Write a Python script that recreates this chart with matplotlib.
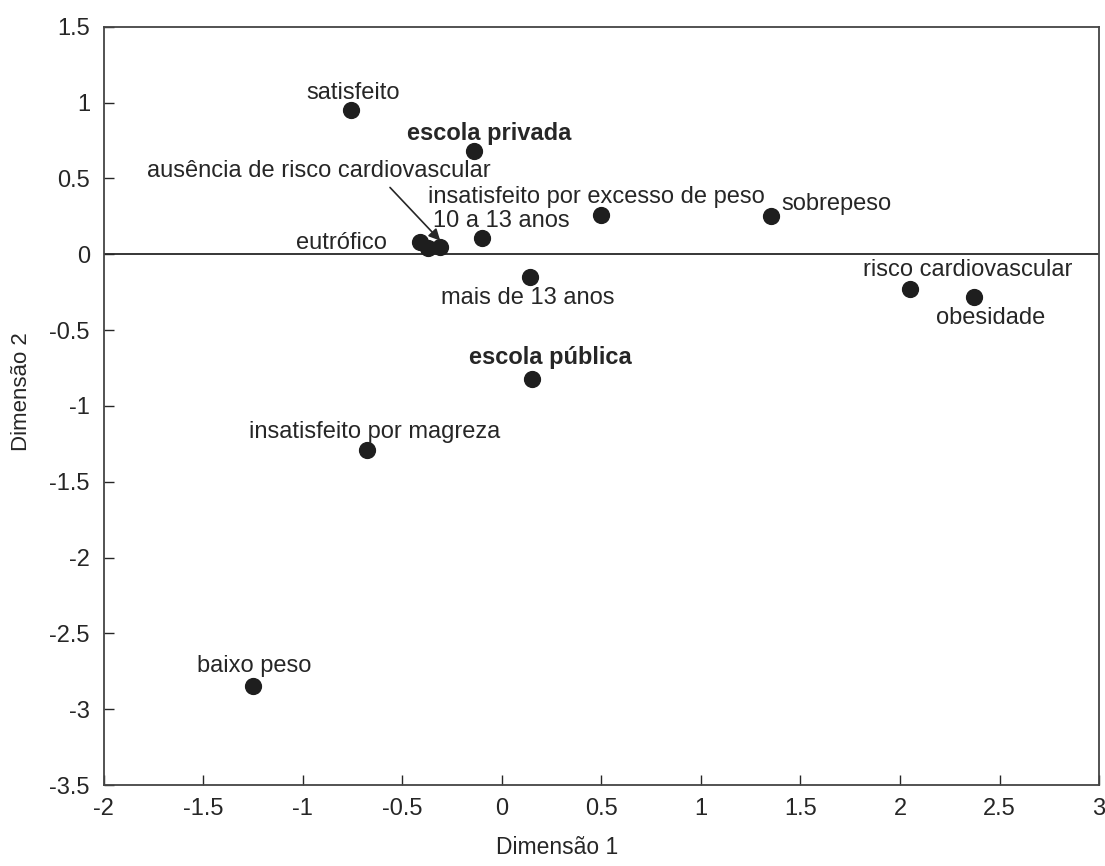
import matplotlib.pyplot as plt
import numpy as np

plt.rcParams['font.family'] = ['Liberation Sans', 'DejaVu Sans']

# coordenadas das categorias (Dimensão 1, Dimensão 2)
rotulos = ['satisfeito', 'escola privada', 'insatisfeito por excesso de peso',
           'sobrepeso', '10 a 13 anos', 'eutrófico',
           'ausência de risco cardiovascular', '', 'mais de 13 anos',
           'risco cardiovascular', 'obesidade', 'escola pública',
           'insatisfeito por magreza', 'baixo peso']
dim1 = [-0.76, -0.14, 0.50, 1.35, -0.10, -0.41, -0.31, -0.37, 0.14,
        2.05, 2.37, 0.15, -0.68, -1.25]
dim2 = [0.95, 0.68, 0.26, 0.25, 0.11, 0.08, 0.05, 0.04, -0.15,
        -0.23, -0.28, -0.82, -1.29, -2.85]
negrito = ['escola privada', 'escola pública']

# deslocamento dos rótulos em pixels (dx, dy, alinhamento)
desloc = [(2, 17, 'center'), (15, 18, 'center'), (-5, 18, 'center'),
          (11, 12, 'left'), (19, 17, 'center'), (-33, -1, 'right'),
          (-121, 70, 'center'), (0, 0, 'center'), (-2, -21, 'center'),
          (58, 19, 'center'), (17, -21, 'center'), (19, 21, 'center'),
          (8, 18, 'center'), (1, 20, 'center')]

cor = '#262626'

fig = plt.figure(figsize=(11.05, 8.66), dpi=100)
ax = fig.add_axes([0.094, 0.0935, 0.9006, 0.8755])

ax.axhline(0, color=cor, lw=1.3, zorder=1)
ax.scatter(dim1, dim2, s=130, color='#1e1e1e', zorder=3)

for nome, x, y, (dx, dy, ha) in zip(rotulos, dim1, dim2, desloc):
    if nome == '':
        continue
    peso = 'bold' if nome in negrito else 'normal'
    if nome.startswith('ausência'):
        ax.annotate(nome, xy=(x, y + 0.04), xytext=(dx * 0.72, dy * 0.72),
                    textcoords='offset points', ha=ha, va='center',
                    fontsize=17, color=cor,
                    arrowprops=dict(arrowstyle='-|>', color=cor, lw=1.2,
                                    shrinkA=3, shrinkB=0, relpos=(0.69, 0)))
    else:
        ax.annotate(nome, xy=(x, y), xytext=(dx * 0.72, dy * 0.72),
                    textcoords='offset points', ha=ha, va='center',
                    fontsize=17, color=cor, fontweight=peso)

ax.set_xlim(-2, 3)
ax.set_ylim(-3.5, 1.5)
ax.set_xticks(np.arange(-2, 3.01, 0.5))
ax.set_yticks(np.arange(-3.5, 1.51, 0.5))
ax.set_xticklabels(['-2', '-1.5', '-1', '-0.5', '0', '0.5', '1', '1.5', '2', '2.5', '3'])
ax.set_yticklabels(['-3.5', '-3', '-2.5', '-2', '-1.5', '-1', '-0.5', '0', '0.5', '1', '1.5'])
ax.tick_params(direction='in', length=7, width=1, labelsize=17, colors=cor)
ax.tick_params(axis='x', pad=9)
ax.tick_params(axis='y', pad=10)
for s in ax.spines.values():
    s.set_color('#444444')
    s.set_linewidth(1.3)

fig.text(557 / 1105, 1 - 848 / 866, 'Dimensão 1', fontsize=16.5, color=cor,
         ha='center', va='center')
fig.text(22 / 1105, 1 - 392 / 866, 'Dimensão 2', fontsize=16, color=cor,
         ha='center', va='center', rotation=90)

fig.savefig('out.png', dpi=100)
